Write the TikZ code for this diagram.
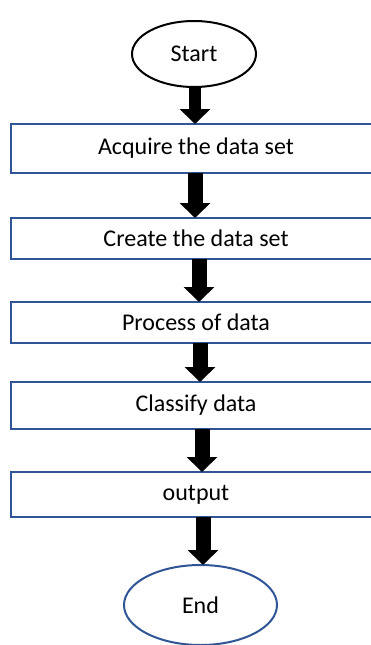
\documentclass[tikz,border=0pt]{standalone}
\usepackage{fontspec}
\setmainfont{Carlito}
\usetikzlibrary{shapes.geometric,arrows.meta}
\definecolor{boxblue}{HTML}{2F5597}
\tikzset{
  stepbox/.style={draw=boxblue, line width=2pt, rectangle, minimum width=370pt, inner sep=0pt, outer sep=0pt, font=\fontsize{24pt}{28pt}\selectfont},
  term/.style={ellipse, line width=2pt, inner sep=0pt, outer sep=0pt, font=\fontsize{24pt}{28pt}\selectfont},
  flow/.style={line width=#1, -{Triangle[width=30pt,length=15pt]}},
  flow/.default=15pt
}
\begin{document}
\begin{tikzpicture}[x=1pt,y=-1pt]
\useasboundingbox[fill=white] (0,0) rectangle (371,645);
\begin{scope}
\clip (0,0) rectangle (371,645);
\node[term, draw=black, minimum width=124pt, minimum height=66pt] (start) at (194,54) {Start};
\node[stepbox, minimum height=49pt] (b1) at (196,148.5) {Acquire the data set};
\node[stepbox, minimum height=41pt] (b2) at (196,238.5) {Create the data set};
\node[stepbox, minimum height=41pt] (b3) at (196,322.5) {Process of data};
\node[stepbox, minimum height=47pt] (b4) at (196,405.5) {Classify data};
\node[stepbox, minimum height=45pt] (b5) at (196,494.5) {output};
\node[term, draw=boxblue, minimum width=153pt, minimum height=80pt] (end) at (200.5,605) {End};
\draw[flow=12pt] ([xshift=1pt]start.south) -- ([xshift=-1pt]b1.north);
\draw[flow] ([xshift=-1pt]b1.south) -- ([xshift=-1pt]b2.north);
\draw[flow] ([xshift=3pt]b2.south) -- ([xshift=3pt]b3.north);
\draw[flow] ([xshift=4pt]b3.south) -- ([xshift=4pt]b4.north);
\draw[flow] ([xshift=6pt]b4.south) -- ([xshift=6pt]b5.north);
\draw[flow] ([xshift=7pt]b5.south) -- ([xshift=2.5pt]end.north);
\end{scope}
\end{tikzpicture}
\end{document}
